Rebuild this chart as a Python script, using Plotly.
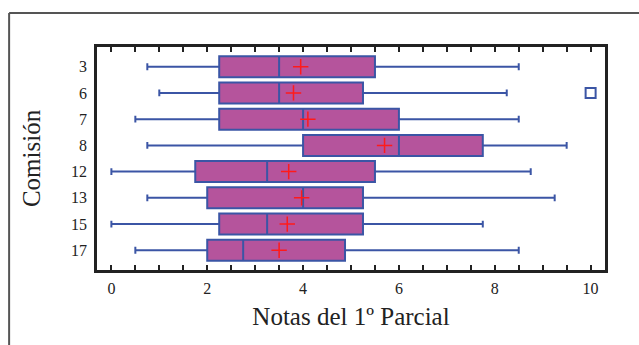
import plotly.graph_objects as go

categories = ["3", "6", "7", "8", "12", "13", "15", "17"]
lower_whisker = [0.75, 1.0, 0.5, 0.75, 0.0, 0.75, 0.0, 0.5]
q1_vals = [2.25, 2.25, 2.25, 4.0, 1.75, 2.0, 2.25, 2.0]
median_vals = [3.5, 3.5, 4.0, 6.0, 3.25, 4.0, 3.25, 2.75]
q3_vals = [5.5, 5.25, 6.0, 7.75, 5.5, 5.25, 5.25, 4.875]
upper_whisker = [8.5, 8.25, 8.5, 9.5, 8.75, 9.25, 7.75, 8.5]
mean_vals = [3.95, 3.8, 4.1, 5.7, 3.7, 3.97, 3.67, 3.5]
outlier_cats = ["6"]
outlier_vals = [10.0]

x_title = "Notas del 1º Parcial"
y_title = "Comisión"
x_tickvals = [0, 2, 4, 6, 8, 10]

FONT = "Liberation Serif, Times New Roman, serif"
BOX_FILL = "#B5549C"
BOX_LINE = "#3B55A5"

fig = go.Figure()
fig.add_trace(go.Box(
    y=categories, q1=q1_vals, median=median_vals, q3=q3_vals,
    lowerfence=lower_whisker, upperfence=upper_whisker,
    orientation="h", fillcolor=BOX_FILL,
    line=dict(color=BOX_LINE, width=2), width=0.8, whiskerwidth=0.33,
    boxpoints=False, showlegend=False,
))
fig.add_trace(go.Scatter(
    x=mean_vals, y=categories, mode="markers",
    marker=dict(symbol="cross-thin", size=11, line=dict(color="#FF1A1A", width=1.5)),
    showlegend=False,
))
fig.add_trace(go.Scatter(
    x=outlier_vals, y=outlier_cats, mode="markers",
    marker=dict(symbol="square-open", size=10, color=BOX_LINE, line=dict(width=2)),
    showlegend=False,
))

fig.update_layout(
    width=639, height=345,
    margin=dict(l=97, r=34, t=47, b=75),
    paper_bgcolor="white", plot_bgcolor="white",
    font=dict(family=FONT, color="#222222"),
    shapes=[
        dict(type="line", xref="paper", yref="paper", x0=-0.173, x1=1.2, y0=1.152, y1=1.152,
             line=dict(color="#555555", width=2)),
        dict(type="line", xref="paper", yref="paper", x0=-0.173, x1=-0.173, y0=-0.4, y1=1.152,
             line=dict(color="#555555", width=2)),
    ],
)
fig.update_xaxes(
    range=[-0.3, 10.3], tickvals=x_tickvals, ticks="inside", ticklen=5, tickwidth=2,
    tickcolor="#222222", showline=True, linecolor="#222222", linewidth=2.5, mirror="ticks",
    showgrid=False, zeroline=False, tickfont=dict(size=16), ticklabelstandoff=2,
    minor=dict(dtick=0.5, ticks="inside", ticklen=5, tickwidth=2, tickcolor="#222222", showgrid=False),
    title=dict(text=x_title, font=dict(size=25), standoff=12),
)
fig.update_yaxes(
    type="category", categoryorder="array", categoryarray=categories,
    range=[7.75, -0.75], ticks="", showline=True, linecolor="#222222", linewidth=2.5,
    mirror=True, showgrid=False, zeroline=False, tickfont=dict(size=16),
    ticklabelstandoff=4,
    title=dict(text=y_title, font=dict(size=25), standoff=24),
)

fig.write_html("out.html", config={"displayModeBar": False},
               post_script="document.body.style.margin='0';")
